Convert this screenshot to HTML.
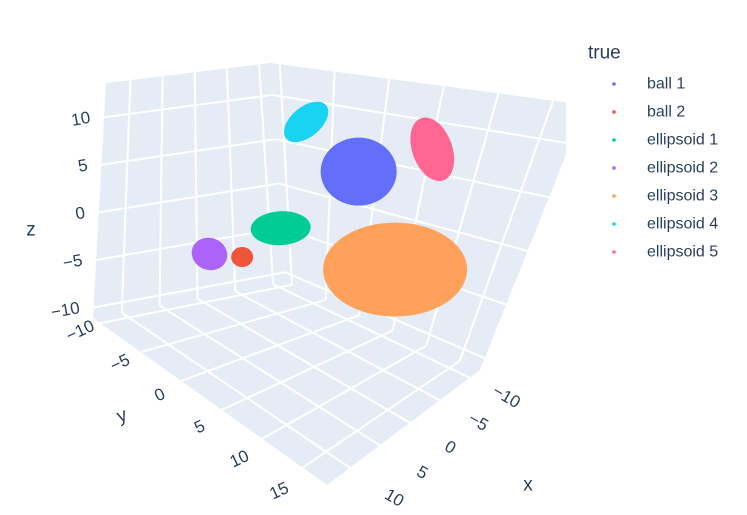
<!DOCTYPE html>
<html><head><meta charset="utf-8"><style>
html,body{margin:0;padding:0;background:#fff;}
svg{display:block;font-family:"Liberation Sans",sans-serif;}
</style></head><body>
<svg id="chart" width="747" height="515" viewBox="0 0 747 515">
<defs><clipPath id="sceneClip"><rect x="0" y="0" width="566" height="515"/></clipPath></defs>
<g id="scene" clip-path="url(#sceneClip)"></g>
<g id="labels"></g>
<g id="legend"></g>
</svg>
<script>
const xTicks=[-10,-5,0,5,10];
const yTicks=[-10,-5,0,5,10,15];
const zTicks=[-10,-5,0,5,10];
const seriesNames=["ball 1","ball 2","ellipsoid 1","ellipsoid 2","ellipsoid 3","ellipsoid 4","ellipsoid 5"];
const seriesColors=["#636efa","#EF553B","#00cc96","#ab63fa","#FFA15A","#19d3f3","#FF6692"];
const centerX=[1.05,1.05,1.05,1.05,1.05,1.05,1.05];
const centerY=[6.5,-4.5,-0.5,-8.4,12.3,0.7,12.9];
const centerZ=[8.7,-3.7,0.8,-5.0,1.25,11.9,12.6];
const XMIN=-11.7,XMAX=13.8,YMIN=-10.9,YMAX=18,ZMIN=-11.1,ZMAX=13.6;
const C={"000":[93,318],"100":[286,282],"010":[327,485],"110":[480,370],
"001":[106,83],"101":[270,63],"011":[390,200],"111":[586,105]};
function lerp(a,b,t){return [a[0]+(b[0]-a[0])*t,a[1]+(b[1]-a[1])*t];}
function projT(tx,ty,tz){
 const a=lerp(C["000"],C["100"],tx),b=lerp(C["010"],C["110"],tx),c=lerp(C["001"],C["101"],tx),d=lerp(C["011"],C["111"],tx);
 return lerp(lerp(a,b,ty),lerp(c,d,ty),tz);}
function tX(x){return (XMAX-x)/(XMAX-XMIN);}
function tY(y){return (y-YMIN)/(YMAX-YMIN);}
function tZ(z){return (z-ZMIN)/(ZMAX-ZMIN);}
function proj(x,y,z){return projT(tX(x),tY(y),tZ(z));}
const NS="http://www.w3.org/2000/svg";
const scene=document.getElementById('scene'),labels=document.getElementById('labels'),legend=document.getElementById('legend');
function mk(tag,attrs,parent){const e=document.createElementNS(NS,tag);for(const k in attrs)e.setAttribute(k,attrs[k]);parent.appendChild(e);return e;}
function poly(pts){return pts.map(p=>p[0].toFixed(1)+","+p[1].toFixed(1)).join(" ");}
const panes=[["left-wall-pane",[[0,0,0],[1,0,0],[1,0,1],[0,0,1]]],["back-wall-pane",[[1,0,0],[1,1,0],[1,1,1],[1,0,1]]],["floor-pane",[[0,0,0],[1,0,0],[1,1,0],[0,1,0]]]];
panes.forEach(p=>{const e=mk('polygon',{points:poly(p[1].map(q=>projT(q[0],q[1],q[2]))),fill:'#e5ecf6'},scene);

});
function gl(a,b,name){const e=mk('line',{x1:a[0],y1:a[1],x2:b[0],y2:b[1],stroke:'#fff','stroke-width':2},scene);

}
xTicks.forEach(v=>{const t=tX(v);gl(projT(t,0,0),projT(t,0,1),'x-gridline');gl(projT(t,0,0),projT(t,1,0),'x-gridline');});
yTicks.forEach(v=>{const t=tY(v);gl(projT(1,t,0),projT(1,t,1),'y-gridline');gl(projT(0,t,0),projT(1,t,0),'y-gridline');});
zTicks.forEach(v=>{const t=tZ(v);gl(projT(0,0,t),projT(1,0,t),'z-gridline');gl(projT(1,0,t),projT(1,1,t),'z-gridline');});
const shapeRx=[38,11,30,18,72,26,20],shapeRy=[34,10,17,16,47,15,33],shapeRot=[0,0,-3,20,0,-40,-20];
seriesNames.forEach((n,i)=>{const p=proj(centerX[i],centerY[i],centerZ[i]);
 const e=mk('ellipse',{cx:p[0],cy:p[1],rx:shapeRx[i],ry:shapeRy[i],fill:seriesColors[i],transform:`rotate(${shapeRot[i]} ${p[0]} ${p[1]})`},scene);
 
 });
function txt(s,x,y,rot,anchor,size,name){const e=mk('text',{x:x,y:y,'text-anchor':anchor,'dominant-baseline':'central','font-size':size,fill:'#2a3f5f',transform:`rotate(${rot} ${x} ${y})`},labels);e.textContent=s;
 
 return e;}
function fmt(v){return v<0?"\u2212"+(-v):""+v;}
zTicks.forEach(v=>{const p=projT(0,0,tZ(v));txt(fmt(v),p[0]-14,p[1],-10,'end',17,'z-tick-label');});
yTicks.forEach(v=>{const t=tY(v);const p=projT(0,t,0);txt(fmt(v),p[0]-20-t*4,p[1]+7+t*18,-25,'middle',17,'y-tick-label');});
xTicks.forEach(v=>{const t=tX(v);const p=projT(t,1,0);txt(fmt(v),p[0]+36+(1-t)*10,p[1]+18+(1-t)*14,30,'middle',17,'x-tick-label');});
txt("z",31,230,0,'middle',19,'z-axis-title');
txt("y",122,416,-20,'middle',19,'y-axis-title');
txt("x",528,485,0,'middle',19,'x-axis-title');
const lt=mk('text',{x:588,y:53,'dominant-baseline':'central','font-size':19,fill:'#2a3f5f'},legend);lt.textContent="true";


seriesNames.forEach((n,i)=>{const y=84+i*28;
 const g=mk('g',{},legend);
 
 
 mk('circle',{cx:614,cy:y,r:1.8,fill:seriesColors[i]},g);
 const t=mk('text',{x:647,y:y,'dominant-baseline':'central','font-size':16,fill:'#2a3f5f'},g);t.textContent=n;});
</script>
</body></html>
